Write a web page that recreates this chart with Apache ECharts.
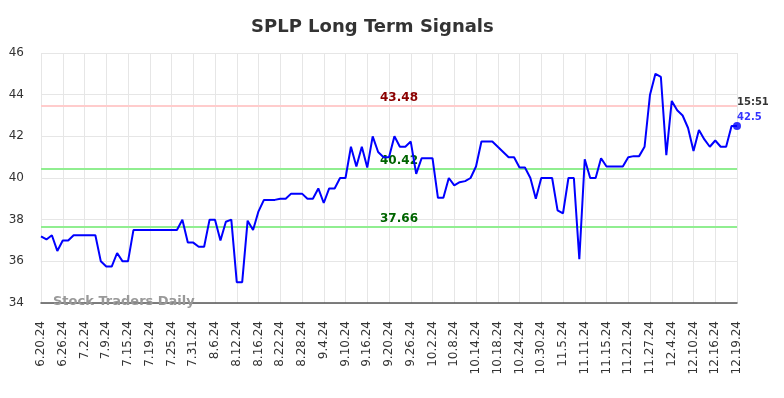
<!DOCTYPE html>
<html>
<head>
<meta charset="utf-8">
<title>SPLP Long Term Signals</title>
<script src="https://cdn.jsdelivr.net/npm/echarts@6.0.0/dist/echarts.min.js"></script>
<style>
  html, body { margin: 0; padding: 0; background: #fff; }
  #chart { width: 784px; height: 398px; }
</style>
</head>
<body>
<div id="chart"></div>
<script>
// trading days; the last entry is the intraday print
var dates = [
  '6.20.24','6.21.24','6.24.24','6.25.24','6.26.24','6.27.24','6.28.24',
  '7.1.24','7.2.24','7.3.24','7.5.24','7.8.24','7.9.24','7.10.24','7.11.24','7.12.24',
  '7.15.24','7.16.24','7.17.24','7.18.24','7.19.24','7.22.24','7.23.24','7.24.24','7.25.24',
  '7.26.24','7.29.24','7.30.24','7.31.24',
  '8.1.24','8.2.24','8.5.24','8.6.24','8.7.24','8.8.24','8.9.24','8.12.24','8.13.24','8.14.24',
  '8.15.24','8.16.24','8.19.24','8.20.24','8.21.24','8.22.24','8.23.24','8.26.24','8.27.24',
  '8.28.24','8.29.24','8.30.24',
  '9.3.24','9.4.24','9.5.24','9.6.24','9.9.24','9.10.24','9.11.24','9.12.24','9.13.24',
  '9.16.24','9.17.24','9.18.24','9.19.24','9.20.24','9.23.24','9.24.24','9.25.24','9.26.24',
  '9.27.24','9.30.24',
  '10.1.24','10.2.24','10.3.24','10.4.24','10.7.24','10.8.24','10.9.24','10.10.24','10.11.24',
  '10.14.24','10.15.24','10.16.24','10.17.24','10.18.24','10.21.24','10.22.24','10.23.24',
  '10.24.24','10.25.24','10.28.24','10.29.24','10.30.24','10.31.24',
  '11.1.24','11.4.24','11.5.24','11.6.24','11.7.24','11.8.24','11.11.24','11.12.24','11.13.24',
  '11.14.24','11.15.24','11.18.24','11.19.24','11.20.24','11.21.24','11.22.24','11.25.24',
  '11.26.24','11.27.24','11.29.24',
  '12.2.24','12.3.24','12.4.24','12.5.24','12.6.24','12.9.24','12.10.24','12.11.24','12.12.24',
  '12.13.24','12.16.24','12.17.24','12.18.24','12.19.24','12.19.24'
];

var prices = [
  37.2, 37.05, 37.25, 36.5, 37.0, 37.0, 37.25, 37.25, 37.25, 37.25,
  37.25, 36.0, 35.75, 35.75, 36.4, 36.0, 36.0, 37.5, 37.5, 37.5,
  37.5, 37.5, 37.5, 37.5, 37.5, 37.5, 38.0, 36.9, 36.9, 36.7,
  36.7, 38.0, 38.0, 37.0, 37.9, 38.0, 35.0, 35.0, 37.95, 37.5,
  38.4, 38.95, 38.95, 38.95, 39.0, 39.0, 39.25, 39.25, 39.25, 39.0,
  39.0, 39.5, 38.8, 39.5, 39.5, 40.0, 40.0, 41.5, 40.55, 41.5,
  40.5, 42.0, 41.25, 41.0, 41.0, 42.0, 41.5, 41.5, 41.75, 40.2,
  40.95, 40.95, 40.95, 39.05, 39.05, 40.0, 39.65, 39.8, 39.85, 40.0,
  40.55, 41.75, 41.75, 41.75, 41.5, 41.25, 41.0, 41.0, 40.5, 40.5,
  40.0, 39.0, 40.0, 40.0, 40.0, 38.45, 38.3, 40.0, 40.0, 36.1,
  40.9, 40.0, 40.0, 40.95, 40.55, 40.55, 40.55, 40.55, 41.0, 41.05,
  41.05, 41.5, 44.0, 45.0, 44.85, 41.1, 43.7, 43.25, 43.0, 42.4,
  41.3, 42.3, 41.85, 41.5, 41.8, 41.5, 41.5, 42.5, 42.5
];

var resistance = [43.48];
var supports = [40.42, 37.66];
var lastTime = '15:51';

var font = 'DejaVu Sans';
var lastIdx = prices.length - 1;

var levelLines = [];
resistance.forEach(function (v) {
  levelLines.push({ yAxis: v, lineStyle: { color: '#ffcccc' }, label: { color: '#8b0000' } });
});
supports.forEach(function (v) {
  levelLines.push({ yAxis: v, lineStyle: { color: '#90ee90' }, label: { color: '#006400' } });
});

var chart = echarts.init(document.getElementById('chart'));
var option = {
  animation: false,
  backgroundColor: '#fff',
  title: {
    text: 'SPLP Long Term Signals',
    left: 251,
    top: 18,
    padding: 0,
    textStyle: { fontFamily: font, fontSize: 18, fontWeight: 'bold', color: '#333' }
  },
  grid: { left: 41, right: 47, top: 53, bottom: 95 },
  xAxis: {
    type: 'category',
    data: dates,
    boundaryGap: false,
    axisLine: { lineStyle: { color: '#555', width: 1.5 } },
    axisTick: { show: false },
    axisLabel: {
      interval: 3,
      rotate: 90,
      margin: 18,
      fontFamily: font,
      fontSize: 12,
      color: '#333'
    },
    splitLine: { show: true, interval: 3, lineStyle: { color: '#e6e6e6' } }
  },
  yAxis: {
    type: 'value',
    min: 34,
    max: 46,
    interval: 2,
    axisLine: { show: false },
    axisTick: { show: false },
    axisLabel: { margin: 17, fontFamily: font, fontSize: 12, color: '#333' },
    splitLine: { lineStyle: { color: '#e6e6e6' } }
  },
  graphic: [{
    type: 'text',
    left: 53,
    top: 295,
    z: 10,
    style: {
      text: 'Stock Traders Daily',
      font: 'bold 13px "DejaVu Sans"',
      fill: '#999'
    }
  }],
  series: [
    {
      type: 'line',
      data: prices,
      showSymbol: false,
      lineStyle: { color: '#0000ff', width: 2 },
      itemStyle: { color: '#0000ff' },
      z: 3,
      markLine: {
        silent: true,
        symbol: 'none',
        z: 2,
        lineStyle: { type: 'solid', width: 2 },
        label: {
          position: 'insideMiddleTop',
          distance: 2,
          padding: [0, 0, 0, 20],
          fontFamily: font,
          fontSize: 12,
          fontWeight: 'bold',
          formatter: function (p) { return p.value.toFixed(2); }
        },
        data: levelLines
      }
    },
    {
      type: 'scatter',
      data: [[lastIdx, prices[lastIdx]]],
      symbol: 'circle',
      symbolSize: 8,
      itemStyle: { color: '#0000ff' },
      z: 4,
      label: {
        show: true,
        position: [4, -27],
        align: 'left',
        fontFamily: font,
        formatter: function (p) { return '{t|' + lastTime + '}\n{v|' + p.value[1] + '}'; },
        rich: {
          t: { fontFamily: font, fontSize: 10, fontWeight: 'bold', color: '#000', lineHeight: 15 },
          v: { fontFamily: font, fontSize: 10, fontWeight: 'bold', color: '#0000ff', lineHeight: 15 }
        }
      }
    }
  ]
};
chart.setOption(option);
</script>
</body>
</html>
